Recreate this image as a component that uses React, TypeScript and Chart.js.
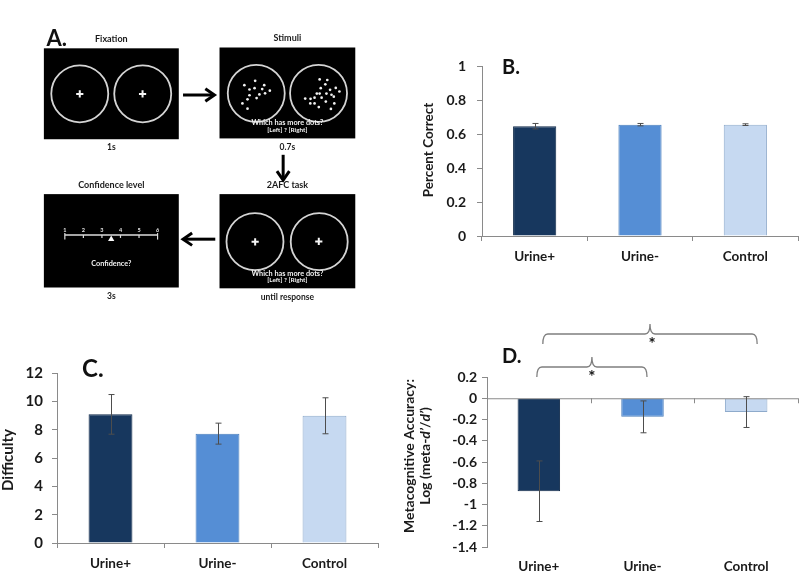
import React, { useEffect, useRef } from "react";
import { Chart, registerables } from "chart.js";
Chart.register(...registerables);

const FONT = "Lato, 'Open Sans', sans-serif";
const TEXT = "#1a1a1a";
const AXIS = "#8a8a8a";

// ---------------- bar chart data ----------------
const categories = ["Urine+", "Urine-", "Control"];
const barFill = ["#17375E", "#558ED5", "#C6D9F1"];
const barEdge = ["#102a4a", "#4a7ebb", "#8eaacb"];

const percentCorrect = [0.646, 0.655, 0.655];
const percentCorrectErr = [0.016, 0.007, 0.005];

const difficulty = [9.08, 7.72, 8.98];
const difficultyErr = [1.4, 0.74, 1.27];

const metaAccuracy = [-0.875, -0.175, -0.13];
const metaAccuracyErr = [0.285, 0.15, 0.145];

const significantPairs: [number, number][] = [[0, 1], [0, 2]];
const significanceMarks = ["*", "*"];

// ---------------- task schematic (panel A) ----------------
const screenTitles = ["Fixation", "Stimuli", "2AFC task", "Confidence level"];
const screenDurations = ["1s", "0.7s", "until response", "3s"];
const screenBoxes = [
  [16, 22, 175, 133],
  [223, 21, 383, 132],
  [223, 200, 383, 315],
  [16, 200, 175, 314],
];
const apertureCenters = [
  { x: 58.3, y: 77.5 }, { x: 132.5, y: 77.5 },
  { x: 266.3, y: 77 }, { x: 339.7, y: 77 },
  { x: 264.8, y: 258 }, { x: 340.5, y: 258 },
];
const fixationCrosses = [
  { x: 58.3, y: 77.7 }, { x: 132.3, y: 77.7 },
  { x: 265, y: 258.3 }, { x: 340, y: 257.7 },
];
const leftDots = [
  { x: 265, y: 61.7 }, { x: 252.3, y: 67 }, { x: 275.7, y: 67 }, { x: 258.3, y: 72.3 },
  { x: 264.3, y: 70.7 }, { x: 273.3, y: 71.7 }, { x: 282.3, y: 73.7 }, { x: 276.7, y: 77 },
  { x: 270, y: 78.3 }, { x: 258.3, y: 79.3 }, { x: 256, y: 84.3 }, { x: 266.7, y: 82.7 },
  { x: 250, y: 89.3 }, { x: 256, y: 95.7 },
];
const rightDots = [
  { x: 341, y: 60 }, { x: 350, y: 60.7 }, { x: 347.7, y: 66 }, { x: 342.3, y: 70.7 },
  { x: 360, y: 70.3 }, { x: 364.3, y: 74.7 }, { x: 353.3, y: 72.7 }, { x: 337.7, y: 77.3 },
  { x: 341, y: 77.3 }, { x: 349, y: 77.3 }, { x: 355, y: 78.7 }, { x: 357.7, y: 81 },
  { x: 335, y: 82.3 }, { x: 343.3, y: 82.3 }, { x: 324, y: 83.3 }, { x: 330.3, y: 83.7 },
  { x: 348.3, y: 87 }, { x: 330, y: 89.3 }, { x: 335, y: 89.3 }, { x: 358.3, y: 89.3 },
  { x: 340, y: 93.7 }, { x: 354.3, y: 96 },
];
const confidenceLevels = ["1", "2", "3", "4", "5", "6"];
const confidenceChoice = 3.5;

// ---------------- helpers ----------------
function txt(ctx: CanvasRenderingContext2D, s: string, x: number, y: number, size: number,
  o: { color?: string; align?: CanvasTextAlign; base?: CanvasTextBaseline; rot?: boolean; weight?: string; italic?: boolean } = {}) {
  ctx.save();
  ctx.font = `${o.italic ? "italic " : ""}${o.weight ?? "bold"} ${size}px ${FONT}`;
  ctx.fillStyle = o.color ?? TEXT;
  ctx.textAlign = o.align ?? "center";
  ctx.textBaseline = o.base ?? "middle";
  if (o.rot) {
    ctx.translate(x, y);
    ctx.rotate(-Math.PI / 2);
    ctx.fillText(s, 0, 0);
  } else ctx.fillText(s, x, y);
  ctx.restore();
}

function arrow(ctx: CanvasRenderingContext2D, x0: number, y0: number, x1: number, y1: number) {
  const a = Math.atan2(y1 - y0, x1 - x0);
  const L = 11, sp = 0.6;
  ctx.save();
  ctx.strokeStyle = "#000";
  ctx.lineWidth = 3;
  ctx.lineCap = "butt";
  ctx.lineJoin = "miter";
  ctx.beginPath();
  ctx.moveTo(x0, y0);
  ctx.lineTo(x1 - Math.cos(a) * 1.5, y1 - Math.sin(a) * 1.5);
  ctx.stroke();
  ctx.beginPath();
  ctx.moveTo(x1 - L * Math.cos(a - sp), y1 - L * Math.sin(a - sp));
  ctx.lineTo(x1, y1);
  ctx.lineTo(x1 - L * Math.cos(a + sp), y1 - L * Math.sin(a + sp));
  ctx.stroke();
  ctx.restore();
}

function schematicConfig(): any {
  const scaleX = (v: number) => 40.7 + (v - 1) * 21.86;
  const plugin = {
    id: "schematic",
    beforeDatasetsDraw(chart: any) {
      const ctx = chart.ctx as CanvasRenderingContext2D;
      const px = (v: number) => chart.scales.x.getPixelForValue(v);
      const py = (v: number) => chart.scales.y.getPixelForValue(v);
      screenBoxes.forEach((b, i) => {
        ctx.fillStyle = "#000";
        ctx.fillRect(px(b[0]), py(b[1]), px(b[2]) - px(b[0]), py(b[3]) - py(b[1]));
        const cx = (px(b[0]) + px(b[2])) / 2;
        txt(ctx, screenTitles[i], cx, py(b[1]) - 9, 9);
        txt(ctx, screenDurations[i], cx, py(b[3]) + 8.5, 8.5);
      });
    },
    afterDatasetsDraw(chart: any) {
      const ctx = chart.ctx as CanvasRenderingContext2D;
      const px = (v: number) => chart.scales.x.getPixelForValue(v);
      const py = (v: number) => chart.scales.y.getPixelForValue(v);
      // prompts
      [[1, 113, 122], [2, 297, 305]].forEach(([i, y1, y2]) => {
        const b = screenBoxes[i];
        const cx = (px(b[0]) + px(b[2])) / 2;
        txt(ctx, "Which has more dots?", cx, py(y1), 7.3, { color: "#f2f2f2" });
        txt(ctx, "[Left] ? [Right]", cx, py(y2), 6.4, { color: "#f2f2f2" });
      });
      const cb = screenBoxes[3];
      txt(ctx, "Confidence?", (px(cb[0]) + px(cb[2])) / 2, py(285), 7.3, { color: "#f2f2f2" });
      // confidence scale ticks & numbers
      ctx.save();
      ctx.strokeStyle = "#dcdcdc";
      ctx.lineWidth = 1.2;
      confidenceLevels.forEach((lab, k) => {
        const x = px(scaleX(k + 1));
        const end = k === 0 || k === confidenceLevels.length - 1;
        ctx.beginPath();
        ctx.moveTo(x, py(end ? 247.5 : 250));
        ctx.lineTo(x, py(end ? 255.5 : 253.5));
        ctx.stroke();
        txt(ctx, lab, x, py(244), 5.5, { color: "#e8e8e8" });
      });
      ctx.restore();
      // arrows
      arrow(ctx, px(180), py(79), px(217), py(79));
      arrow(ctx, px(298), py(152), px(298), py(183));
      arrow(ctx, px(218), py(255), px(180), py(255));
      // panel letter
      txt(ctx, "A.", px(19), py(19), 22, { align: "left", base: "alphabetic", color: "#111" });
    },
  };
  return {
    type: "scatter",
    data: {
      datasets: [
        {
          data: apertureCenters, pointRadius: 28.5, pointBorderWidth: 1.8,
          pointBorderColor: "#d4d4d4", pointBackgroundColor: "rgba(0,0,0,0)",
        },
        {
          data: fixationCrosses, pointStyle: "cross", pointRadius: 3.6, pointBorderWidth: 2,
          pointBorderColor: "#f5f5f5",
        },
        {
          data: [...leftDots, ...rightDots], pointRadius: 1.35, pointBorderWidth: 0,
          pointBackgroundColor: "#f0f0f0",
        },
        {
          type: "line",
          data: [{ x: scaleX(1), y: 250 }, { x: scaleX(6), y: 250 }],
          borderColor: "#dcdcdc", borderWidth: 1.5, pointRadius: 0,
        },
        {
          data: [{ x: scaleX(confidenceChoice), y: 255 }], pointStyle: "triangle", pointRadius: 3.6,
          pointBackgroundColor: "#fafafa", pointBorderWidth: 0,
        },
      ],
    },
    options: {
      animation: false, responsive: false, devicePixelRatio: 1, events: [],
      layout: { padding: 0 },
      plugins: { legend: { display: false }, tooltip: { enabled: false } },
      scales: {
        x: { type: "linear", min: 0, max: 400, display: false },
        y: { type: "linear", min: 0, max: 335, reverse: true, display: false },
      },
    },
    plugins: [plugin],
  };
}

type Spec = {
  values: number[]; errors: number[];
  min: number; max: number; step: number;
  w: number; h: number;
  aL: number; aT: number; aR: number; aB: number;
  tickSize: number; tickPad: number; labelPad: number;
  zeroLine: boolean;
  overlay: (chart: any) => void;
};

function barConfig(s: Spec): any {
  const fmt = (v: number) => String(Math.round(v * 10) / 10);
  const plugin = {
    id: "extras",
    afterDatasetsDraw(chart: any) {
      const ctx = chart.ctx as CanvasRenderingContext2D;
      const ys = chart.scales.y, xs = chart.scales.x;
      const area = chart.chartArea;
      if (s.zeroLine) {
        const y0 = ys.getPixelForValue(0);
        ctx.save();
        ctx.strokeStyle = AXIS;
        ctx.lineWidth = 1;
        ctx.beginPath();
        ctx.moveTo(area.left, y0 + 0.5);
        ctx.lineTo(area.right, y0 + 0.5);
        const half = (xs.getPixelForValue(1) - xs.getPixelForValue(0)) / 2;
        for (let i = 0; i < categories.length; i++) {
          const xb = Math.round(xs.getPixelForValue(i) + half) + 0.5;
          ctx.moveTo(xb, y0);
          ctx.lineTo(xb, y0 + 5);
        }
        ctx.stroke();
        ctx.restore();
      }
      const meta = chart.getDatasetMeta(0);
      ctx.save();
      ctx.strokeStyle = "#4d4d4d";
      ctx.lineWidth = 1;
      s.values.forEach((v, i) => {
        const x = Math.round(meta.data[i].x) + 0.5;
        const yt = ys.getPixelForValue(v + s.errors[i]);
        const yb = ys.getPixelForValue(v - s.errors[i]);
        ctx.beginPath();
        ctx.moveTo(x, yt); ctx.lineTo(x, yb);
        ctx.moveTo(x - 3, yt); ctx.lineTo(x + 3, yt);
        ctx.moveTo(x - 3, yb); ctx.lineTo(x + 3, yb);
        ctx.stroke();
      });
      ctx.restore();
    },
    afterDraw(chart: any) { s.overlay(chart); },
  };
  return {
    type: "bar",
    data: {
      labels: categories,
      datasets: [{
        data: s.values, backgroundColor: barFill, borderColor: barEdge, borderWidth: 1,
        barPercentage: 0.41, categoryPercentage: 1,
      }],
    },
    options: {
      animation: false, responsive: false, devicePixelRatio: 1, events: [],
      layout: { padding: { left: 0, top: s.aT, right: s.w - s.aR, bottom: 0 } },
      plugins: { legend: { display: false }, tooltip: { enabled: false } },
      scales: {
        x: {
          ticks: { color: TEXT, font: { family: FONT, weight: "bold", size: 13.5 }, padding: s.labelPad, maxRotation: 0 },
          grid: s.zeroLine
            ? { display: false, drawTicks: false }
            : { offset: true, drawOnChartArea: false, tickLength: 5, color: AXIS },
          border: { display: !s.zeroLine, color: AXIS },
          afterFit: (sc: any) => { sc.height = s.h - s.aB; },
        },
        y: {
          min: s.min, max: s.max,
          ticks: { stepSize: s.step, color: TEXT, font: { family: FONT, weight: "bold", size: s.tickSize }, padding: s.tickPad, callback: (v: any) => fmt(Number(v)) },
          grid: { drawOnChartArea: false, tickLength: 5, color: AXIS },
          border: { color: AXIS },
          afterFit: (sc: any) => { sc.width = s.aL; },
        },
      },
    },
    plugins: [plugin],
  };
}

function drawBrace(ctx: CanvasRenderingContext2D, x1: number, x2: number, y: number, d: number) {
  const xm = (x1 + x2) / 2, r = 5;
  ctx.beginPath();
  ctx.moveTo(x1, y + d);
  ctx.quadraticCurveTo(x1, y, x1 + r, y);
  ctx.lineTo(xm - r, y);
  ctx.quadraticCurveTo(xm, y, xm, y - d);
  ctx.quadraticCurveTo(xm, y, xm + r, y);
  ctx.lineTo(x2 - r, y);
  ctx.quadraticCurveTo(x2, y, x2, y + d);
  ctx.stroke();
}

const specB: Spec = {
  values: percentCorrect, errors: percentCorrectErr, min: 0, max: 1, step: 0.2,
  w: 400, h: 290, aL: 82, aT: 66, aR: 398, aB: 236,
  tickSize: 14, tickPad: 11, labelPad: 8, zeroLine: false,
  overlay: (chart) => {
    const ctx = chart.ctx;
    txt(ctx, "Percent Correct", 29, 150, 13.5, { rot: true });
    txt(ctx, "B.", 102, 74, 20, { align: "left", base: "alphabetic", color: "#111" });
  },
};

const specC: Spec = {
  values: difficulty, errors: difficultyErr, min: 0, max: 12, step: 2,
  w: 400, h: 240, aL: 57, aT: 38, aR: 378, aB: 208,
  tickSize: 15, tickPad: 9, labelPad: 8, zeroLine: false,
  overlay: (chart) => {
    const ctx = chart.ctx;
    txt(ctx, "Difficulty", 8, 125, 15, { rot: true });
    txt(ctx, "C.", 82, 41.5, 24, { align: "left", base: "alphabetic", color: "#111" });
  },
};

const specD: Spec = {
  values: metaAccuracy, errors: metaAccuracyErr, min: -1.4, max: 0.2, step: 0.2,
  w: 400, h: 265, aL: 87, aT: 67, aR: 398, aB: 237,
  tickSize: 14, tickPad: 5, labelPad: 12, zeroLine: true,
  overlay: (chart) => {
    const ctx = chart.ctx as CanvasRenderingContext2D;
    const xs = chart.scales.x;
    const top = chart.chartArea.top;
    txt(ctx, "Metacognitive Accuracy:", 9, 146, 14, { rot: true });
    // second line with italic d'
    const segs: [string, boolean][] = [["Log (meta-", false], ["d\u2019", true], ["/", false], ["d\u2019", true], [")", false]];
    ctx.save();
    ctx.translate(25, 146);
    ctx.rotate(-Math.PI / 2);
    ctx.fillStyle = TEXT;
    ctx.textBaseline = "middle";
    ctx.textAlign = "left";
    const fontOf = (it: boolean) => `${it ? "italic " : ""}bold 14px ${FONT}`;
    let total = 0;
    segs.forEach(([t, it]) => { ctx.font = fontOf(it); total += ctx.measureText(t).width; });
    let x = -total / 2;
    segs.forEach(([t, it]) => { ctx.font = fontOf(it); ctx.fillText(t, x, 0); x += ctx.measureText(t).width; });
    ctx.restore();
    txt(ctx, "D.", 102, 53, 20, { align: "left", base: "alphabetic", color: "#111" });
    // significance braces
    const braceY = [top - 10, top - 43];
    const offs = [[-2, 4.5], [4, 11]];
    ctx.save();
    ctx.strokeStyle = "#7f7f7f";
    ctx.lineWidth = 1.3;
    significantPairs.forEach(([a, b], k) => {
      const x1 = xs.getPixelForValue(a) + offs[k][0];
      const x2 = xs.getPixelForValue(b) + offs[k][1];
      drawBrace(ctx, x1, x2, braceY[k], 10);
      txt(ctx, significanceMarks[k], (x1 + x2) / 2 + (k === 0 ? 0 : 2), braceY[k] + 16, 17, { base: "alphabetic", color: "#111" });
    });
    ctx.restore();
  },
};

export default function App() {
  const aRef = useRef<HTMLCanvasElement>(null);
  const bRef = useRef<HTMLCanvasElement>(null);
  const cRef = useRef<HTMLCanvasElement>(null);
  const dRef = useRef<HTMLCanvasElement>(null);

  useEffect(() => {
    const charts = [
      new Chart(aRef.current!, schematicConfig()),
      new Chart(bRef.current!, barConfig(specB)),
      new Chart(cRef.current!, barConfig(specC)),
      new Chart(dRef.current!, barConfig(specD)),
    ];
    return () => charts.forEach((c) => c.destroy());
  }, []);

  const pos = (l: number, t: number, w: number, h: number): React.CSSProperties => ({
    position: "absolute", left: l, top: t, width: w, height: h, display: "block",
  });

  return (
    <div style={{ position: "absolute", left: 0, top: 0, width: 800, height: 575, background: "#fff", overflow: "hidden" }}>
      <canvas ref={aRef} width={400} height={335} style={pos(0, 0, 400, 335)} />
      <canvas ref={bRef} width={400} height={290} style={pos(400, 0, 400, 290)} />
      <canvas ref={cRef} width={400} height={240} style={pos(0, 335, 400, 240)} />
      <canvas ref={dRef} width={400} height={265} style={pos(400, 310, 400, 265)} />
    </div>
  );
}
